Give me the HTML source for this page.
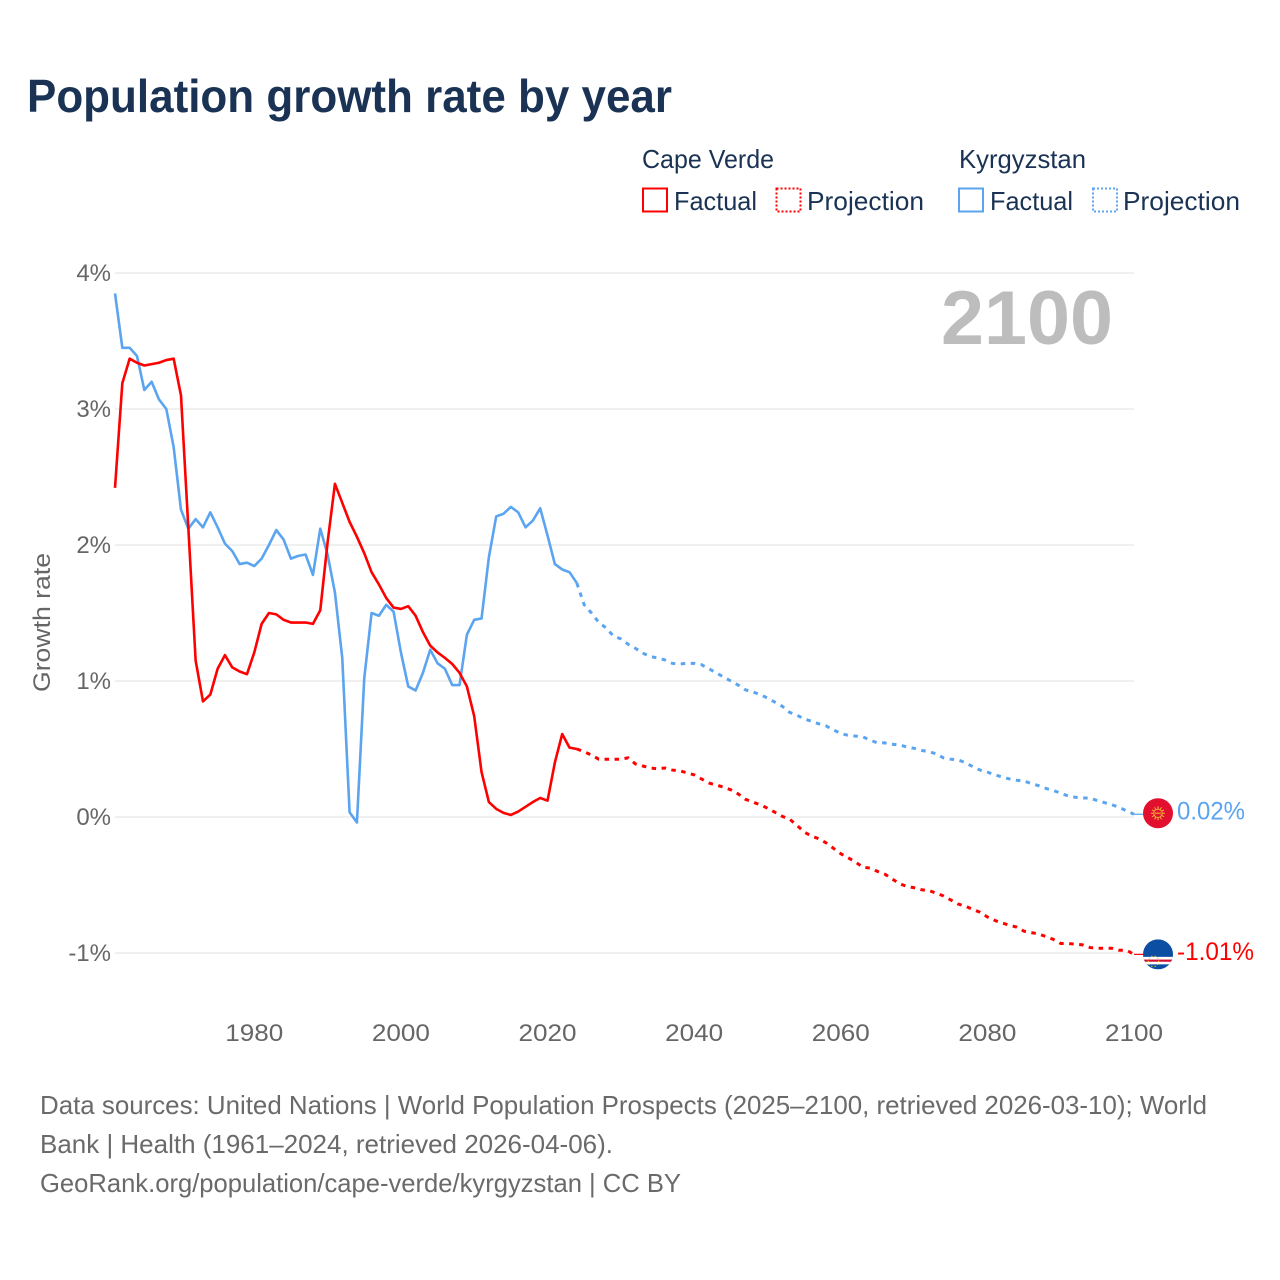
<!DOCTYPE html>
<html lang="en">
<head>
<meta charset="utf-8">
<title>Population growth rate by year</title>
<style>
html,body{margin:0;padding:0;background:#fff;}
svg{display:block;font-family:"Liberation Sans",sans-serif;}
</style>
</head>
<body>
<svg id="chart" xmlns="http://www.w3.org/2000/svg" width="1280" height="1280" viewBox="0 0 1280 1280">
  <rect x="0" y="0" width="1280" height="1280" fill="#fff"/>
  <text x="27" y="112" font-size="46" font-weight="700" fill="#1a3354" textLength="645" lengthAdjust="spacingAndGlyphs">Population growth rate by year</text>

  <g fill="#1a3354" font-size="26">
    <text x="642" y="168" textLength="132" lengthAdjust="spacingAndGlyphs">Cape Verde</text>
    <text x="959" y="168" textLength="127" lengthAdjust="spacingAndGlyphs">Kyrgyzstan</text>
    <rect x="643" y="188.5" width="24" height="23" fill="none" stroke="#ff0000" stroke-width="2"/>
    <text x="674" y="210" textLength="83" lengthAdjust="spacingAndGlyphs">Factual</text>
    <rect x="776.5" y="188.5" width="24" height="23" fill="none" stroke="#ff0000" stroke-width="2" stroke-dasharray="2,2"/>
    <text x="807" y="210" textLength="117" lengthAdjust="spacingAndGlyphs">Projection</text>
    <rect x="959" y="188.5" width="24" height="23" fill="none" stroke="#5ba4ef" stroke-width="2"/>
    <text x="990" y="210" textLength="83" lengthAdjust="spacingAndGlyphs">Factual</text>
    <rect x="1093" y="188.5" width="24" height="23" fill="none" stroke="#5ba4ef" stroke-width="2" stroke-dasharray="2,2"/>
    <text x="1123" y="210" textLength="117" lengthAdjust="spacingAndGlyphs">Projection</text>
  </g>

  <g id="grid"></g>
  <g id="y-ticks"></g>
  <g id="x-ticks"></g>
  <text transform="translate(50,692) rotate(-90)" font-size="24" fill="#666" textLength="139" lengthAdjust="spacingAndGlyphs">Growth rate</text>
  <text x="941" y="344" font-size="76" font-weight="700" fill="#bdbdbd" textLength="172" lengthAdjust="spacingAndGlyphs">2100</text>

  <g id="series"></g>

  <defs>
    <clipPath id="cv-clip"><circle id="cv-clip-circle" cx="1158" cy="953" r="15"/></clipPath>
  </defs>
  <g id="flag-kg"></g>
  <g id="flag-cv"></g>
  <g id="end-labels"></g>

  <g font-size="26" fill="#6a6a6a">
    <text x="40" y="1114" textLength="1167" lengthAdjust="spacingAndGlyphs">Data sources: United Nations | World Population Prospects (2025–2100, retrieved 2026-03-10); World</text>
    <text x="40" y="1153" textLength="573" lengthAdjust="spacingAndGlyphs">Bank | Health (1961–2024, retrieved 2026-04-06).</text>
    <text x="40" y="1192" textLength="641" lengthAdjust="spacingAndGlyphs">GeoRank.org/population/cape-verde/kyrgyzstan | CC BY</text>
  </g>
</svg>

<script>
const yTickValues = [4, 3, 2, 1, 0, -1];
const yTickLabels = ["4%", "3%", "2%", "1%", "0%", "-1%"];
const xTickValues = [1980, 2000, 2020, 2040, 2060, 2080, 2100];
const xTickLabels = ["1980", "2000", "2020", "2040", "2060", "2080", "2100"];

const factualYears = [1961,1962,1963,1964,1965,1966,1967,1968,1969,1970,1971,1972,1973,1974,1975,1976,1977,1978,1979,1980,1981,1982,1983,1984,1985,1986,1987,1988,1989,1990,1991,1992,1993,1994,1995,1996,1997,1998,1999,2000,2001,2002,2003,2004,2005,2006,2007,2008,2009,2010,2011,2012,2013,2014,2015,2016,2017,2018,2019,2020,2021,2022,2023,2024];
const projectionYears = [2024,2025,2026,2027,2028,2029,2030,2031,2032,2033,2034,2035,2036,2037,2038,2039,2040,2041,2042,2043,2044,2045,2046,2047,2048,2049,2050,2051,2052,2053,2054,2055,2056,2057,2058,2059,2060,2061,2062,2063,2064,2065,2066,2067,2068,2069,2070,2071,2072,2073,2074,2075,2076,2077,2078,2079,2080,2081,2082,2083,2084,2085,2086,2087,2088,2089,2090,2091,2092,2093,2094,2095,2096,2097,2098,2099,2100];

const capeVerdeFactual = [2.42,3.19,3.37,3.34,3.32,3.33,3.34,3.36,3.37,3.10,2.13,1.15,0.85,0.90,1.09,1.19,1.10,1.07,1.05,1.21,1.42,1.50,1.49,1.45,1.43,1.43,1.43,1.42,1.52,2.02,2.45,2.31,2.17,2.06,1.94,1.80,1.71,1.61,1.54,1.53,1.55,1.48,1.36,1.26,1.21,1.17,1.125,1.06,0.96,0.74,0.33,0.11,0.06,0.03,0.015,0.04,0.075,0.11,0.14,0.12,0.40,0.61,0.51,0.50];
const kyrgyzstanFactual = [3.85,3.45,3.45,3.39,3.14,3.20,3.07,3.00,2.72,2.26,2.12,2.19,2.13,2.24,2.13,2.01,1.955,1.86,1.87,1.845,1.90,2.00,2.11,2.04,1.90,1.92,1.93,1.78,2.12,1.93,1.65,1.17,0.035,-0.04,1.02,1.50,1.48,1.56,1.51,1.21,0.96,0.93,1.06,1.23,1.13,1.09,0.97,0.97,1.34,1.45,1.46,1.91,2.21,2.23,2.28,2.24,2.13,2.18,2.27,2.07,1.86,1.82,1.80,1.72];

const capeVerdeProjection = [0.50,0.48,0.455,0.425,0.425,0.425,0.425,0.435,0.39,0.375,0.36,0.355,0.36,0.345,0.34,0.325,0.31,0.28,0.25,0.235,0.22,0.20,0.17,0.13,0.11,0.09,0.065,0.035,0.005,-0.015,-0.06,-0.11,-0.14,-0.16,-0.19,-0.23,-0.27,-0.30,-0.33,-0.37,-0.375,-0.40,-0.42,-0.455,-0.49,-0.51,-0.52,-0.535,-0.54,-0.56,-0.58,-0.61,-0.64,-0.655,-0.68,-0.70,-0.735,-0.76,-0.78,-0.795,-0.81,-0.84,-0.85,-0.86,-0.88,-0.90,-0.93,-0.93,-0.935,-0.94,-0.96,-0.965,-0.965,-0.965,-0.98,-0.98,-1.01];
const kyrgyzstanProjection = [1.72,1.56,1.50,1.43,1.39,1.33,1.31,1.27,1.24,1.205,1.18,1.17,1.155,1.13,1.125,1.13,1.13,1.12,1.09,1.06,1.03,1.00,0.97,0.935,0.92,0.90,0.875,0.845,0.815,0.77,0.75,0.72,0.705,0.685,0.67,0.64,0.615,0.60,0.595,0.59,0.565,0.545,0.545,0.535,0.53,0.515,0.505,0.49,0.48,0.465,0.435,0.425,0.42,0.40,0.37,0.345,0.33,0.31,0.295,0.28,0.27,0.265,0.245,0.23,0.21,0.195,0.175,0.155,0.145,0.14,0.14,0.12,0.105,0.09,0.07,0.045,0.02];

const endLabelKyrgyzstan = "0.02%";
const endLabelCapeVerde = "-1.01%";

const NS = "http://www.w3.org/2000/svg";
const PLOT_LEFT = 115, PLOT_RIGHT = 1134;
function xScale(year) { return PLOT_LEFT + (year - 1961) * (PLOT_RIGHT - PLOT_LEFT) / (2100 - 1961); }
function yScale(value) { return 817 - value * 136; }
function make(tag, parent, attrs) {
  const el = document.createElementNS(NS, tag);
  for (const k in attrs) el.setAttribute(k, attrs[k]);
  parent.appendChild(el);
  return el;
}
function pathFrom(years, values) {
  return years.map((y, i) => (i ? "L" : "M") + xScale(y).toFixed(2) + " " + yScale(values[i]).toFixed(2)).join(" ");
}

const gridGroup = document.getElementById("grid");
const yTickGroup = document.getElementById("y-ticks");
yTickValues.forEach((v, i) => {
  const line = make("line", gridGroup, {x1: PLOT_LEFT, x2: PLOT_RIGHT, y1: yScale(v), y2: yScale(v), stroke: "#e6e6e6", "stroke-width": 1.2});
  
  
  const label = make("text", yTickGroup, {x: 111, y: yScale(v) + 8, "text-anchor": "end", "font-size": 24, fill: "#666"});
  label.textContent = yTickLabels[i];
  
  
});

const xTickGroup = document.getElementById("x-ticks");
xTickValues.forEach((v, i) => {
  const label = make("text", xTickGroup, {x: xScale(v), y: 1041, "text-anchor": "middle", "font-size": 24, fill: "#666", textLength: 58, lengthAdjust: "spacingAndGlyphs"});
  label.textContent = xTickLabels[i];
  
  
});

const seriesGroup = document.getElementById("series");
const RED = "#ff0000", BLUE = "#5ba4ef", DASH = "4.5,5.5";

const kgFactualLine = make("path", seriesGroup, {d: pathFrom(factualYears, kyrgyzstanFactual), fill: "none", stroke: BLUE, "stroke-width": 2.6, "stroke-linejoin": "round"});


const cvFactualLine = make("path", seriesGroup, {d: pathFrom(factualYears, capeVerdeFactual), fill: "none", stroke: RED, "stroke-width": 2.6, "stroke-linejoin": "round"});


const kgProjectionLine = make("path", seriesGroup, {d: pathFrom(projectionYears, kyrgyzstanProjection), fill: "none", stroke: BLUE, "stroke-width": 3, "stroke-dasharray": DASH});


const cvProjectionLine = make("path", seriesGroup, {d: pathFrom(projectionYears, capeVerdeProjection), fill: "none", stroke: RED, "stroke-width": 3, "stroke-dasharray": DASH});



const kgEndY = yScale(kyrgyzstanProjection[kyrgyzstanProjection.length - 1]);
const cvEndY = yScale(capeVerdeProjection[capeVerdeProjection.length - 1]);
const FLAG_X = 1158;

const kgConnector = make("line", seriesGroup, {x1: PLOT_RIGHT, x2: FLAG_X - 15, y1: kgEndY, y2: kgEndY, stroke: BLUE, "stroke-width": 1.2});


const cvConnector = make("line", seriesGroup, {x1: PLOT_RIGHT, x2: FLAG_X - 15, y1: cvEndY, y2: cvEndY, stroke: RED, "stroke-width": 1.2});



/* Kyrgyzstan flag */
const kgCy = kgEndY - 1;
const kgFlag = document.getElementById("flag-kg");
make("circle", kgFlag, {cx: FLAG_X, cy: kgCy, r: 15, fill: "#e20f2f"});
for (let a = 0; a < 12; a++) {
  const t = a * Math.PI / 6;
  make("line", kgFlag, {x1: FLAG_X + 4.6 * Math.cos(t), y1: kgCy + 4.6 * Math.sin(t), x2: FLAG_X + 7 * Math.cos(t), y2: kgCy + 7 * Math.sin(t), stroke: "#f2b33a", "stroke-width": 1});
}
make("circle", kgFlag, {cx: FLAG_X, cy: kgCy, r: 4.2, fill: "none", stroke: "#f2b33a", "stroke-width": 1});
make("path", kgFlag, {d: `M${FLAG_X - 3} ${kgCy - 1}Q${FLAG_X} ${kgCy + 2} ${FLAG_X + 3} ${kgCy - 1}M${FLAG_X - 3} ${kgCy + 1}Q${FLAG_X} ${kgCy - 2} ${FLAG_X + 3} ${kgCy + 1}`, fill: "none", stroke: "#f2b33a", "stroke-width": 0.6});

/* Cape Verde flag */
const cvCy = cvEndY;
const cvClipCircle = document.getElementById("cv-clip-circle");
cvClipCircle.setAttribute("cy", cvCy);
const cvFlag = document.getElementById("flag-cv");
const cvInner = make("g", cvFlag, {"clip-path": "url(#cv-clip)"});
make("rect", cvInner, {x: FLAG_X - 15, y: cvCy - 15, width: 30, height: 30, fill: "#0b4ea2"});
make("rect", cvInner, {x: FLAG_X - 15, y: cvCy + 2.5, width: 30, height: 7.5, fill: "#fff"});
make("rect", cvInner, {x: FLAG_X - 15, y: cvCy + 5.2, width: 30, height: 2.2, fill: "#d21034"});
for (let a = 0; a < 10; a++) {
  const t = a * Math.PI / 5;
  make("circle", cvInner, {cx: FLAG_X - 4.5 + 5.2 * Math.cos(t), cy: cvCy + 7 + 5.2 * Math.sin(t), r: 0.7, fill: "#f7d116"});
}

const endLabels = document.getElementById("end-labels");
const kgLabel = make("text", endLabels, {x: 1177, y: kgEndY + 5, "font-size": 25, fill: BLUE, textLength: 68, lengthAdjust: "spacingAndGlyphs"});
kgLabel.textContent = endLabelKyrgyzstan;


const cvLabel = make("text", endLabels, {x: 1177, y: cvEndY + 5.5, "font-size": 25, fill: RED, textLength: 77, lengthAdjust: "spacingAndGlyphs"});
cvLabel.textContent = endLabelCapeVerde;


</script>
</body>
</html>
